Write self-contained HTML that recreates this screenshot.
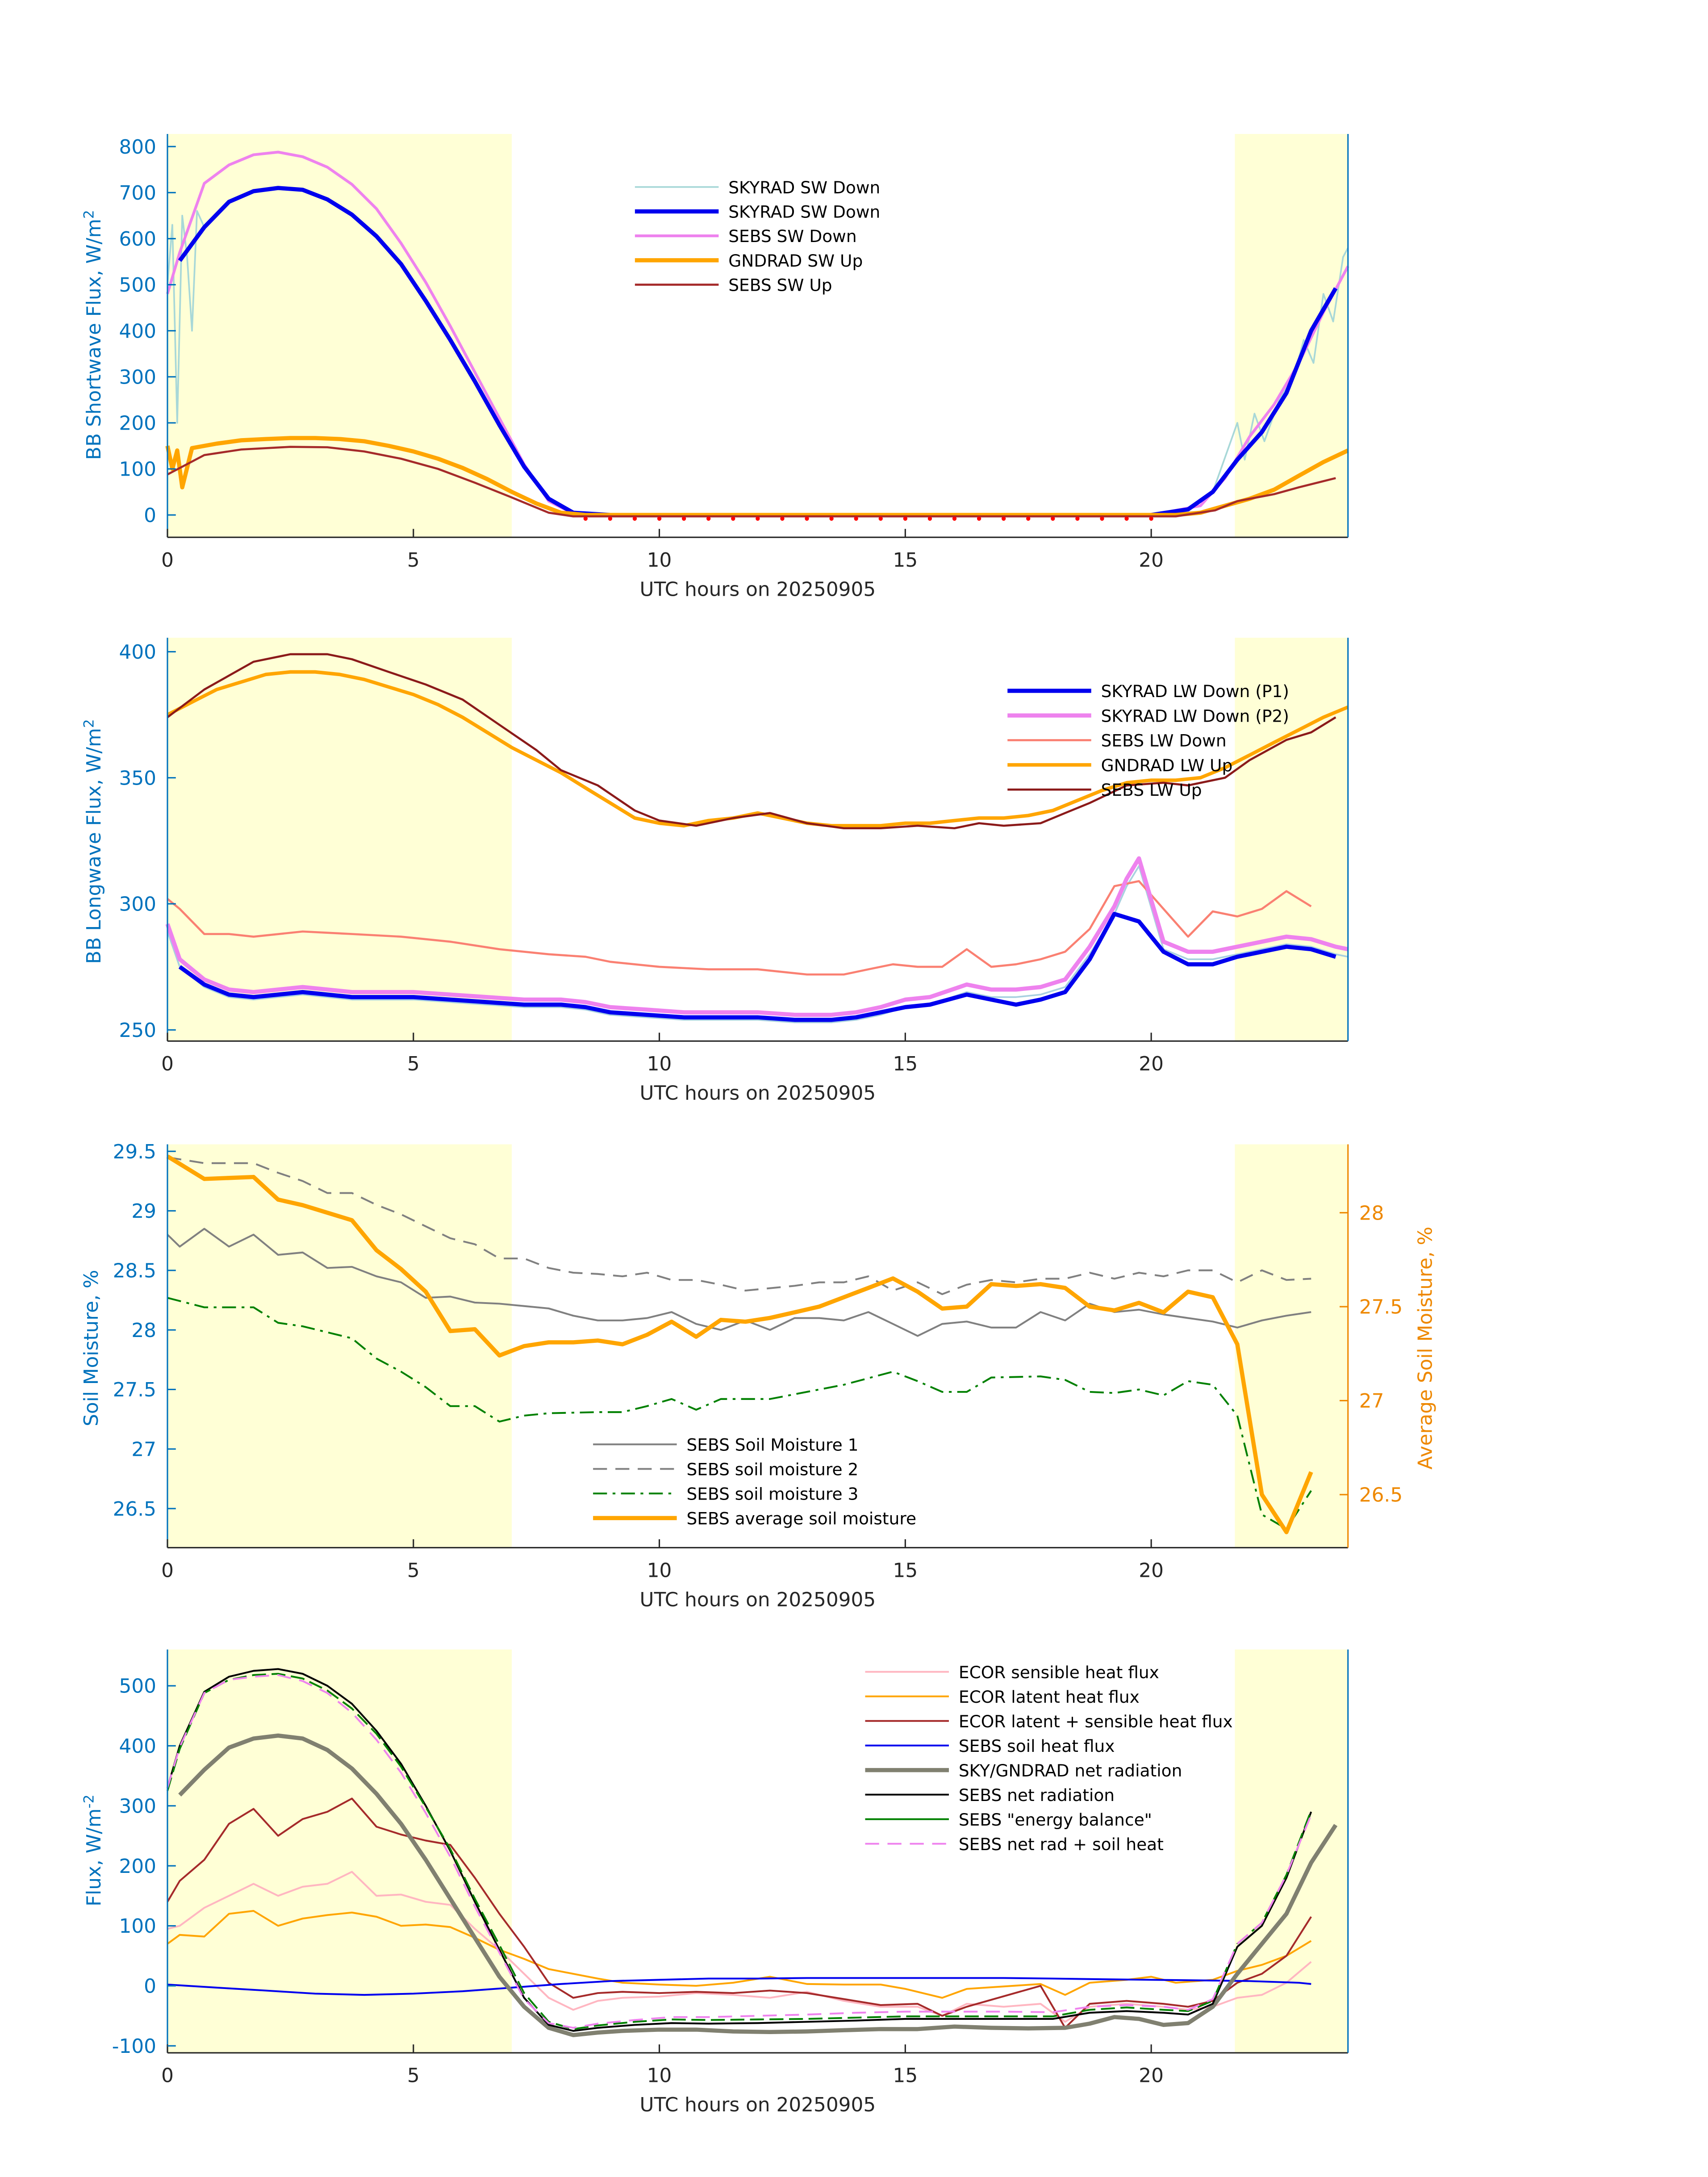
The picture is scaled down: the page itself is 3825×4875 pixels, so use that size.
<!DOCTYPE html>
<html><head><meta charset="utf-8"><style>
html,body{margin:0;padding:0;background:#fff;}
svg{display:block;font-family:"DejaVu Sans","Liberation Sans",sans-serif;}
</style></head><body>
<svg id="chart" xmlns="http://www.w3.org/2000/svg" width="3825" height="4875" viewBox="0 0 1224 1560"></svg>
<script>
// ---------- Panel 1 data ----------
const p1SkyDown = [[0.25,552],[0.75,625],[1.25,680],[1.75,703],[2.25,710],[2.75,706],[3.25,685],[3.75,652],[4.25,605],[4.75,545],[5.25,465],[5.75,380],[6.25,290],[6.75,195],[7.25,105],[7.75,35],[8.25,5],[9,0],[12,0],[16,0],[20,0],[20.75,12],[21.25,50],[21.75,120],[22.25,180],[22.75,265],[23.25,400],[23.75,492]];
const p1SkyDownRaw = [[0,500],[0.1,630],[0.2,200],[0.3,650],[0.4,560],[0.5,400],[0.6,660],[0.75,625],[1.25,680],[1.75,703],[2.25,710],[2.75,706],[3.25,685],[3.75,652],[4.25,605],[4.75,545],[5.25,465],[5.75,380],[6.25,290],[6.75,195],[7.25,105],[7.75,35],[8.25,5],[9,0],[20,0],[20.75,12],[21.25,50],[21.75,200],[21.9,120],[22.1,220],[22.3,160],[22.6,250],[22.9,300],[23.1,380],[23.3,330],[23.5,480],[23.7,420],[23.9,560],[24,580]];
const p1SebsDown = [[0,480],[0.25,570],[0.75,720],[1.25,760],[1.75,782],[2.25,788],[2.75,778],[3.25,755],[3.75,718],[4.25,665],[4.75,590],[5.25,505],[5.75,410],[6.25,310],[6.75,210],[7.25,110],[7.75,30],[8.25,3],[9,0],[20,0],[21,20],[21.5,80],[22,170],[22.5,240],[23,330],[23.5,440],[24,540]];
const p1GndUp = [[0,150],[0.1,100],[0.2,140],[0.3,60],[0.5,145],[1,155],[1.5,162],[2,165],[2.5,167],[3,167],[3.5,165],[4,160],[4.5,150],[5,138],[5.5,122],[6,102],[6.5,78],[7,50],[7.5,25],[8,5],[8.5,0],[20.5,0],[21,5],[21.5,20],[22,35],[22.5,55],[23,85],[23.5,115],[24,140]];
const p1SebsUp = [[0,88],[0.75,130],[1.5,142],[2.5,148],[3.25,147],[4,138],[4.75,122],[5.5,100],[6.25,70],[7,38],[7.75,5],[8.25,-3],[20.5,-3],[21.3,10],[21.75,30],[22.5,45],[23,60],[23.75,80]];
const p1Dots = [8.5,9,9.5,10,10.5,11,11.5,12,12.5,13,13.5,14,14.5,15,15.5,16,16.5,17,17.5,18,18.5,19,19.5,20];
const p1Ticks = [0,100,200,300,400,500,600,700,800];
// ---------- Panel 2 data ----------
const p2P1 = [[0.25,275],[0.75,268],[1.25,264],[1.75,263],[2.25,264],[2.75,265],[3.25,264],[3.75,263],[4.25,263],[5,263],[5.75,262],[6.5,261],[7.25,260],[8,260],[8.5,259],[9,257],[9.75,256],[10.5,255],[11.25,255],[12,255],[12.75,254],[13.5,254],[14,255],[14.5,257],[15,259],[15.5,260],[16.25,264],[16.75,262],[17.25,260],[17.75,262],[18.25,265],[18.75,278],[19.25,296],[19.75,293],[20.25,281],[20.75,276],[21.25,276],[21.75,279],[22.25,281],[22.75,283],[23.25,282],[23.75,279]];
const p2P2 = [[0,292],[0.25,278],[0.75,270],[1.25,266],[1.75,265],[2.25,266],[2.75,267],[3.25,266],[3.75,265],[4.25,265],[5,265],[5.75,264],[6.5,263],[7.25,262],[8,262],[8.5,261],[9,259],[9.75,258],[10.5,257],[11.25,257],[12,257],[12.75,256],[13.5,256],[14,257],[14.5,259],[15,262],[15.5,263],[16.25,268],[16.75,266],[17.25,266],[17.75,267],[18.25,270],[18.75,283],[19.25,299],[19.5,310],[19.75,318],[20.25,285],[20.75,281],[21.25,281],[21.75,283],[22.25,285],[22.75,287],[23.25,286],[23.75,283],[24,282]];
const p2SebsDown = [[0,302],[0.25,298],[0.75,288],[1.25,288],[1.75,287],[2.75,289],[3.75,288],[4.75,287],[5.75,285],[6.75,282],[7.75,280],[8.5,279],[9,277],[10,275],[11,274],[12,274],[13,272],[13.75,272],[14.25,274],[14.75,276],[15.25,275],[15.75,275],[16.25,282],[16.75,275],[17.25,276],[17.75,278],[18.25,281],[18.75,290],[19.25,307],[19.75,309],[20.25,298],[20.75,287],[21.25,297],[21.75,295],[22.25,298],[22.75,305],[23.25,299]];
const p2GndUp = [[0,375],[0.5,380],[1,385],[1.5,388],[2,391],[2.5,392],[3,392],[3.5,391],[4,389],[4.5,386],[5,383],[5.5,379],[6,374],[6.5,368],[7,362],[7.5,357],[8,352],[8.5,346],[9,340],[9.5,334],[10,332],[10.5,331],[11,333],[11.5,334],[12,336],[12.5,334],[13,332],[13.5,331],[14,331],[14.5,331],[15,332],[15.5,332],[16,333],[16.5,334],[17,334],[17.5,335],[18,337],[18.5,341],[19,345],[19.5,348],[20,349],[20.5,349],[21,350],[21.5,354],[22,359],[22.5,364],[23,369],[23.5,374],[24,378]];
const p2SebsUp = [[0,374],[0.75,385],[1.75,396],[2.5,399],[3.25,399],[3.75,397],[4.5,392],[5.25,387],[6,381],[6.75,371],[7.5,361],[8,353],[8.75,347],[9.5,337],[10,333],[10.75,331],[11.5,334],[12.25,336],[13,332],[13.75,330],[14.5,330],[15.25,331],[16,330],[16.5,332],[17,331],[17.75,332],[18.25,336],[18.75,340],[19.5,347],[20.25,348],[20.75,347],[21.5,350],[22,357],[22.75,365],[23.25,368],[23.75,374]];
const p2Ticks = [250,300,350,400];
// ---------- Panel 3 data ----------
const p3Soil1 = [[0,28.8],[0.25,28.7],[0.75,28.85],[1.25,28.7],[1.75,28.8],[2.25,28.63],[2.75,28.65],[3.25,28.52],[3.75,28.53],[4.25,28.45],[4.75,28.4],[5.25,28.27],[5.75,28.28],[6.25,28.23],[6.75,28.22],[7.25,28.2],[7.75,28.18],[8.25,28.12],[8.75,28.08],[9.25,28.08],[9.75,28.1],[10.25,28.15],[10.75,28.05],[11.25,28.0],[11.75,28.08],[12.25,28.0],[12.75,28.1],[13.25,28.1],[13.75,28.08],[14.25,28.15],[14.75,28.05],[15.25,27.95],[15.75,28.05],[16.25,28.07],[16.75,28.02],[17.25,28.02],[17.75,28.15],[18.25,28.08],[18.75,28.22],[19.25,28.15],[19.75,28.17],[20.25,28.13],[20.75,28.1],[21.25,28.07],[21.75,28.02],[22.25,28.08],[22.75,28.12],[23.25,28.15]];
const p3Soil2 = [[0,29.45],[0.75,29.4],[1.75,29.4],[2.25,29.32],[2.75,29.25],[3.25,29.15],[3.75,29.15],[4.25,29.05],[4.75,28.97],[5.25,28.87],[5.75,28.77],[6.25,28.72],[6.75,28.6],[7.25,28.6],[7.75,28.52],[8.25,28.48],[8.75,28.47],[9.25,28.45],[9.75,28.48],[10.25,28.42],[10.75,28.42],[11.25,28.38],[11.75,28.33],[12.25,28.35],[12.75,28.37],[13.25,28.4],[13.75,28.4],[14.25,28.45],[14.75,28.33],[15.25,28.4],[15.75,28.3],[16.25,28.38],[16.75,28.42],[17.25,28.4],[17.75,28.43],[18.25,28.43],[18.75,28.48],[19.25,28.43],[19.75,28.48],[20.25,28.45],[20.75,28.5],[21.25,28.5],[21.75,28.4],[22.25,28.5],[22.75,28.42],[23.25,28.43]];
const p3Soil3 = [[0,28.27],[0.75,28.19],[1.75,28.19],[2.25,28.06],[2.75,28.03],[3.75,27.93],[4.25,27.76],[4.75,27.65],[5.25,27.52],[5.75,27.36],[6.25,27.36],[6.75,27.23],[7.25,27.28],[7.75,27.3],[8.75,27.31],[9.25,27.31],[9.75,27.36],[10.25,27.42],[10.75,27.33],[11.25,27.42],[12.25,27.42],[12.75,27.46],[13.75,27.54],[14.75,27.65],[15.25,27.57],[15.75,27.48],[16.25,27.48],[16.75,27.6],[17.75,27.61],[18.25,27.58],[18.75,27.48],[19.25,27.47],[19.75,27.5],[20.25,27.45],[20.75,27.57],[21.25,27.54],[21.75,27.28],[22.25,26.45],[22.75,26.33],[23.25,26.65]];
const p3Avg = [[0,28.3],[0.75,28.18],[1.75,28.19],[2.25,28.07],[2.75,28.04],[3.75,27.96],[4.25,27.8],[4.75,27.7],[5.25,27.58],[5.75,27.37],[6.25,27.38],[6.75,27.24],[7.25,27.29],[7.75,27.31],[8.25,27.31],[8.75,27.32],[9.25,27.3],[9.75,27.35],[10.25,27.42],[10.75,27.34],[11.25,27.43],[11.75,27.42],[12.25,27.44],[12.75,27.47],[13.25,27.5],[13.75,27.55],[14.25,27.6],[14.75,27.65],[15.25,27.58],[15.75,27.49],[16.25,27.5],[16.75,27.62],[17.25,27.61],[17.75,27.62],[18.25,27.6],[18.75,27.5],[19.25,27.48],[19.75,27.52],[20.25,27.47],[20.75,27.58],[21.25,27.55],[21.75,27.3],[22.25,26.5],[22.75,26.3],[23.25,26.62]];
const p3TicksL = [26.5,27,27.5,28,28.5,29,29.5];
const p3TicksR = [26.5,27,27.5,28];
// ---------- Panel 4 data ----------
const p4Sens = [[0,95],[0.25,100],[0.75,130],[1.25,150],[1.75,170],[2.25,150],[2.75,165],[3.25,170],[3.75,190],[4.25,150],[4.75,152],[5.25,140],[5.75,135],[6.25,95],[6.75,60],[7.25,20],[7.75,-20],[8.25,-40],[8.75,-25],[9.25,-20],[10,-18],[10.75,-12],[11.5,-15],[12.25,-20],[13,-10],[13.75,-25],[14.5,-35],[15.25,-35],[15.75,-50],[16.25,-30],[17,-35],[17.75,-30],[18.25,-60],[18.75,-35],[19.5,-30],[20.25,-35],[20.75,-40],[21.25,-35],[21.75,-20],[22.25,-15],[22.75,5],[23.25,40]];
const p4Lat = [[0,70],[0.25,85],[0.75,82],[1.25,120],[1.75,125],[2.25,100],[2.75,112],[3.25,118],[3.75,122],[4.25,115],[4.75,100],[5.25,102],[5.75,98],[6.25,80],[6.75,60],[7.25,45],[7.75,28],[8.25,20],[8.75,12],[9.25,5],[10,2],[10.75,0],[11.5,5],[12.25,15],[13,3],[13.75,2],[14.5,2],[15,-5],[15.75,-20],[16.25,-5],[17.75,3],[18.25,-15],[18.75,5],[19.5,10],[20,15],[20.5,5],[21.25,10],[21.75,25],[22.25,35],[22.75,50],[23.25,75]];
const p4LatSens = [[0,140],[0.25,175],[0.75,210],[1.25,270],[1.75,295],[2.25,250],[2.75,278],[3.25,290],[3.75,312],[4.25,265],[4.75,252],[5.25,242],[5.75,235],[6.25,180],[6.75,120],[7.25,65],[7.75,5],[8.25,-20],[8.75,-12],[9.25,-10],[10,-12],[10.75,-10],[11.5,-12],[12.25,-8],[13,-12],[13.75,-22],[14.5,-32],[15.25,-30],[15.75,-50],[16.25,-35],[17.75,0],[18.25,-70],[18.75,-30],[19.5,-25],[20.25,-30],[20.75,-35],[21.25,-25],[21.75,5],[22.25,20],[22.75,50],[23.25,115]];
const p4Soil = [[0,2],[1,-3],[2,-8],[3,-13],[4,-15],[5,-13],[6,-9],[7,-3],[8,3],[9,8],[10,10],[11,12],[12,12],[13,13],[14,13],[15,13],[16,13],[17,13],[18,12],[19,11],[20,10],[21,9],[22,8],[23,5],[23.25,3]];
const p4SkyNet = [[0.25,318],[0.75,360],[1.25,397],[1.75,412],[2.25,417],[2.75,412],[3.25,393],[3.75,362],[4.25,320],[4.75,270],[5.25,210],[5.75,145],[6.25,80],[6.75,15],[7.25,-35],[7.75,-70],[8.25,-82],[8.75,-78],[9.25,-75],[10,-73],[10.75,-73],[11.5,-76],[12.25,-77],[13,-76],[13.75,-74],[14.5,-72],[15.25,-72],[16,-68],[16.75,-70],[17.5,-71],[18.25,-70],[18.75,-63],[19.25,-52],[19.75,-55],[20.25,-65],[20.75,-62],[21.25,-35],[21.75,20],[22.25,70],[22.75,120],[23.25,205],[23.75,268]];
const p4SebsNet = [[0,330],[0.25,400],[0.75,490],[1.25,515],[1.75,525],[2.25,528],[2.75,520],[3.25,500],[3.75,470],[4.25,425],[4.75,370],[5.25,300],[5.75,225],[6.25,140],[6.75,60],[7.25,-20],[7.75,-65],[8.25,-75],[8.75,-70],[9.5,-65],[10.25,-62],[11,-63],[12,-62],[13,-60],[14,-58],[15,-55],[16,-55],[17,-55],[18,-55],[18.75,-45],[19.5,-42],[20.25,-45],[20.75,-48],[21.25,-30],[21.75,65],[22.25,100],[22.75,180],[23.25,290]];
const p4Energy = [[0,325],[0.25,395],[0.75,488],[1.25,510],[1.75,518],[2.25,520],[2.75,512],[3.25,492],[3.75,462],[4.25,420],[4.75,365],[5.25,298],[5.75,228],[6.25,145],[6.75,68],[7.25,-12],[7.75,-60],[8.25,-72],[8.75,-66],[9.5,-60],[10.25,-56],[11,-57],[12,-56],[13,-55],[14,-53],[15,-51],[16,-51],[17,-51],[18,-51],[18.75,-40],[19.5,-36],[20.25,-40],[20.75,-42],[21.25,-25],[21.75,70],[22.25,105],[22.75,185],[23.25,292]];
const p4NetSoil = [[0,330],[0.25,398],[0.75,488],[1.25,510],[1.75,515],[2.25,518],[2.75,508],[3.25,488],[3.75,455],[4.25,410],[4.75,355],[5.25,288],[5.75,215],[6.25,132],[6.75,55],[7.25,-22],[7.75,-62],[8.25,-70],[8.75,-63],[9.5,-57],[10.25,-52],[11,-52],[12,-50],[13,-48],[14,-45],[15,-43],[16,-43],[17,-43],[18,-44],[18.75,-35],[19.5,-32],[20.25,-35],[20.75,-40],[21.25,-22],[21.75,70],[22.25,105],[22.75,185],[23.25,285]];
const p4Ticks = [-100,0,100,200,300,400,500];
const xTicks = [0,5,10,15,20];

const NS = "http://www.w3.org/2000/svg";
const svg = document.getElementById('chart');
function el(tag, attrs, parent){ const e=document.createElementNS(NS,tag); for(const k in attrs) e.setAttribute(k,attrs[k]); (parent||svg).appendChild(e); return e; }
const X0=120, X1=966;
function xs(h){ return X0 + h*(X1-X0)/24; }
function mkY(v0,y0,v1,y1){ return v => y0 + (v-v0)*(y1-y0)/(v1-v0); }
const BLUE="#0072BD", ORNG="#EE8800";

function panel(name, top, bot){
  const g = el('g',{});
  
  
  const s1 = el('rect',{x:X0,y:top,width:xs(7)-X0,height:bot-top,fill:'#FFFFD6'},g);
   
  const s2 = el('rect',{x:xs(21.7),y:top,width:X1-xs(21.7),height:bot-top,fill:'#FFFFD6'},g);
   
  return g;
}
function frame(g, top, bot, rightColor){
  const a = el('line',{x1:X0,y1:top,x2:X0,y2:bot,stroke:BLUE,'stroke-width':1},g);
   
  const b = el('line',{x1:X0,y1:bot,x2:X1,y2:bot,stroke:'#262626','stroke-width':1},g);
   
  el('line',{x1:X1,y1:top,x2:X1,y2:bot,stroke:rightColor||BLUE,'stroke-width':1},g);
  for(const t of xTicks){
    const x=xs(t);
    el('line',{x1:x,y1:bot,x2:x,y2:bot-6,stroke:'#262626'},g);
    const tx=el('text',{x:x,y:bot+21,'font-size':14,'text-anchor':'middle',fill:'#262626'},g);
    tx.textContent=t;
     
  }
  const xl=el('text',{x:543,y:bot+42,'font-size':14,'text-anchor':'middle',fill:'#262626'},g);
  xl.textContent='UTC hours on 20250905';
   
}
function yticks(g, ticks, ys, color, right){
  for(const t of ticks){
    const y=ys(t);
    if(right){ el('line',{x1:X1,y1:y,x2:X1-6,y2:y,stroke:color},g); }
    else { el('line',{x1:X0,y1:y,x2:X0+6,y2:y,stroke:color},g); }
    const tx=el('text',{x:right?X1+8:X0-8,y:y+5,'font-size':14,'text-anchor':right?'start':'end',fill:color},g);
    tx.textContent=t;
     
  }
}
function ytitle(g, x, y, html, color, name){
  const t=el('text',{x:x,y:y,'font-size':14,'text-anchor':'middle',fill:color,transform:`rotate(-90 ${x} ${y})`},g);
  t.innerHTML=html;
   
}
function line(g, data, ys, style, name){
  const d = data.map((p,i)=>(i?'L':'M')+xs(p[0]).toFixed(1)+','+ys(p[1]).toFixed(1)).join(' ');
  const p = el('path',Object.assign({d:d,fill:'none','stroke-linejoin':'round'},style),g);
   
}
function legend(g, x, y0, dy, entries){
  entries.forEach((e,i)=>{
    const y=y0+i*dy;
    const ln = el('line',Object.assign({x1:x,y1:y,x2:x+60,y2:y},e.style),g);
     
    const t=el('text',{x:x+67,y:y+4.5,'font-size':12,fill:'#000'},g);
    t.textContent=e.label;
     
  });
}

// Panel 1
{
  const top=96, bot=385, ys=mkY(0,369,800,105);
  const g=panel('shortwave-panel',top,bot);
  line(g,p1SkyDownRaw,ys,{stroke:'#A8D8D8','stroke-width':1.2},'skyrad-sw-down-raw');
  line(g,p1SebsDown,ys,{stroke:'#EE82EE','stroke-width':2},'sebs-sw-down');
  line(g,p1SkyDown,ys,{stroke:'#0000EE','stroke-width':3},'skyrad-sw-down');
  line(g,p1GndUp,ys,{stroke:'#FFA500','stroke-width':3},'gndrad-sw-up');
  line(g,p1SebsUp,ys,{stroke:'#A52A2A','stroke-width':1.5},'sebs-sw-up');
  for(const h of p1Dots){ const c=el('circle',{cx:xs(h),cy:ys(-8),r:1.5,fill:'#FF0000'},g);
      }
  frame(g,top,bot);
  yticks(g,p1Ticks,ys,BLUE,false);
  ytitle(g,72,240,'BB Shortwave Flux, W/m<tspan dy="-5" font-size="10">2</tspan>',BLUE,'y-axis-title');
  legend(g,455,134,17.5,[
    {label:'SKYRAD SW Down',style:{stroke:'#A8D8D8','stroke-width':1.2}},
    {label:'SKYRAD SW Down',style:{stroke:'#0000EE','stroke-width':3}},
    {label:'SEBS SW Down',style:{stroke:'#EE82EE','stroke-width':2}},
    {label:'GNDRAD SW Up',style:{stroke:'#FFA500','stroke-width':3}},
    {label:'SEBS SW Up',style:{stroke:'#A52A2A','stroke-width':1.5}}]);
}
// Panel 2
{
  const top=457, bot=746, ys=mkY(250,738,400,467);
  const g=panel('longwave-panel',top,bot);
  line(g,p2P2.map(p=>[p[0],p[1]-3]),ys,{stroke:'#A8D0E0','stroke-width':1.2},'skyrad-lw-down-raw');
  line(g,p2SebsDown,ys,{stroke:'#FA8072','stroke-width':1.5},'sebs-lw-down');
  line(g,p2P2,ys,{stroke:'#EE82EE','stroke-width':3},'skyrad-lw-down-p2');
  line(g,p2P1,ys,{stroke:'#0000EE','stroke-width':3},'skyrad-lw-down-p1');
  line(g,p2GndUp,ys,{stroke:'#FFA500','stroke-width':2.5},'gndrad-lw-up');
  line(g,p2SebsUp,ys,{stroke:'#8B1A1A','stroke-width':1.5},'sebs-lw-up');
  frame(g,top,bot);
  yticks(g,p2Ticks,ys,BLUE,false);
  ytitle(g,72,603,'BB Longwave Flux, W/m<tspan dy="-5" font-size="10">2</tspan>',BLUE,'y-axis-title');
  legend(g,722,495,17.7,[
    {label:'SKYRAD LW Down (P1)',style:{stroke:'#0000EE','stroke-width':3}},
    {label:'SKYRAD LW Down (P2)',style:{stroke:'#EE82EE','stroke-width':3}},
    {label:'SEBS LW Down',style:{stroke:'#FA8072','stroke-width':1.5}},
    {label:'GNDRAD LW Up',style:{stroke:'#FFA500','stroke-width':2.5}},
    {label:'SEBS LW Up',style:{stroke:'#8B1A1A','stroke-width':1.5}}]);
}
// Panel 3
{
  const top=820, bot=1109, ys=mkY(26.5,1081,29.5,825), yr=mkY(26.5,1071,28,869);
  const g=panel('soil-moisture-panel',top,bot);
  line(g,p3Soil1,ys,{stroke:'#808080','stroke-width':1.3},'sebs-soil-moisture-1');
  line(g,p3Soil2,ys,{stroke:'#808080','stroke-width':1.3,'stroke-dasharray':'10 6'},'sebs-soil-moisture-2');
  line(g,p3Soil3,ys,{stroke:'#008000','stroke-width':1.3,'stroke-dasharray':'10 4 2 4'},'sebs-soil-moisture-3');
  line(g,p3Avg,yr,{stroke:'#FFA500','stroke-width':3},'sebs-average-soil-moisture');
  frame(g,top,bot,ORNG);
  yticks(g,p3TicksL,ys,BLUE,false);
  yticks(g,p3TicksR,yr,ORNG,true);
  ytitle(g,70,966,'Soil Moisture, %',BLUE,'y-axis-title');
  ytitle(g,1026,966,'Average Soil Moisture, %',ORNG,'right-y-axis-title');
  legend(g,425,1035,17.6,[
    {label:'SEBS Soil Moisture 1',style:{stroke:'#808080','stroke-width':1.3}},
    {label:'SEBS soil moisture 2',style:{stroke:'#808080','stroke-width':1.3,'stroke-dasharray':'10 6'}},
    {label:'SEBS soil moisture 3',style:{stroke:'#008000','stroke-width':1.3,'stroke-dasharray':'10 4 2 4'}},
    {label:'SEBS average soil moisture',style:{stroke:'#FFA500','stroke-width':3}}]);
}
// Panel 4
{
  const top=1182, bot=1471, ys=mkY(0,1423,500,1208);
  const g=panel('energy-flux-panel',top,bot);
  line(g,p4Sens,ys,{stroke:'#FFB6C1','stroke-width':1.3},'ecor-sensible-heat-flux');
  line(g,p4Lat,ys,{stroke:'#FFA500','stroke-width':1.3},'ecor-latent-heat-flux');
  line(g,p4LatSens,ys,{stroke:'#A52A2A','stroke-width':1.3},'ecor-latent-sensible-flux');
  line(g,p4Soil,ys,{stroke:'#0000EE','stroke-width':1.3},'sebs-soil-heat-flux');
  line(g,p4SkyNet,ys,{stroke:'#808070','stroke-width':3},'sky-gndrad-net-radiation');
  line(g,p4SebsNet,ys,{stroke:'#000','stroke-width':1.3},'sebs-net-radiation');
  line(g,p4Energy,ys,{stroke:'#008000','stroke-width':1.3,'stroke-dasharray':'10 4'},'sebs-energy-balance');
  line(g,p4NetSoil,ys,{stroke:'#EE82EE','stroke-width':1.3,'stroke-dasharray':'10 6'},'sebs-net-rad-soil-heat');
  frame(g,top,bot);
  yticks(g,p4Ticks,ys,BLUE,false);
  ytitle(g,72,1326,'Flux, W/m<tspan dy="-5" font-size="10">-2</tspan>',BLUE,'y-axis-title');
  legend(g,620,1198,17.6,[
    {label:'ECOR sensible heat flux',style:{stroke:'#FFB6C1','stroke-width':1.3}},
    {label:'ECOR latent heat flux',style:{stroke:'#FFA500','stroke-width':1.3}},
    {label:'ECOR latent + sensible heat flux',style:{stroke:'#A52A2A','stroke-width':1.3}},
    {label:'SEBS soil heat flux',style:{stroke:'#0000EE','stroke-width':1.3}},
    {label:'SKY/GNDRAD net radiation',style:{stroke:'#808070','stroke-width':3}},
    {label:'SEBS net radiation',style:{stroke:'#000','stroke-width':1.3}},
    {label:'SEBS "energy balance"',style:{stroke:'#008000','stroke-width':1.3}},
    {label:'SEBS net rad + soil heat',style:{stroke:'#EE82EE','stroke-width':1.3,'stroke-dasharray':'10 6'}}]);
}
</script>
</body></html>
